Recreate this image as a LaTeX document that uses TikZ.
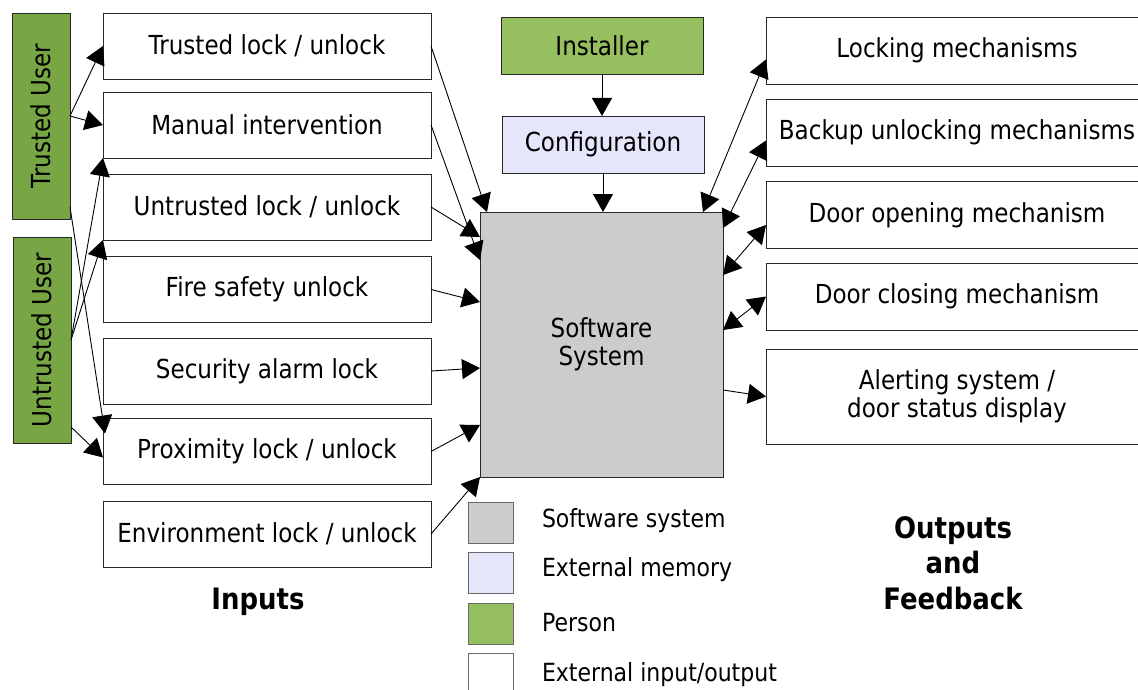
\documentclass[tikz,border=0pt]{standalone}
\usepackage{fontspec}
\setmainfont[FakeStretch=0.88]{DejaVu Sans}
\usetikzlibrary{arrows.meta,calc}
\definecolor{tugreen}{RGB}{120,166,69}
\definecolor{instgreen}{RGB}{150,191,95}
\definecolor{lav}{RGB}{230,230,250}
\definecolor{ssgray}{RGB}{204,204,204}
\definecolor{edgegray}{RGB}{40,40,40}
\begin{document}
\begin{tikzpicture}[x=1pt,y=-1pt,
  every node/.style={inner sep=0pt, outer sep=0pt},
  basebox/.style={draw=edgegray, line width=0.9pt, font=\fontsize{26.2}{28}\selectfont, align=center},
  iobox/.style={basebox, fill=white},
  leftbox/.style={iobox, minimum width=328pt, minimum height=66pt},
  rightbox/.style={iobox, minimum width=382pt, minimum height=67pt},
  person/.style={basebox, fill=tugreen},
  instbox/.style={basebox, fill=instgreen},
  membox/.style={basebox, fill=lav},
  sysbox/.style={basebox, fill=ssgray},
  legsq/.style={draw=edgegray!70, line width=0.9pt, minimum width=45pt, minimum height=41pt},
  legtext/.style={anchor=west, font=\fontsize{25}{28}\selectfont},
  heading/.style={font=\fontsize{29.5}{35.5}\selectfont\bfseries, align=center},
  tip/.tip={Triangle[length=18pt,width=20pt]},
  conn/.style={line width=0.9pt, -tip},
  bconn/.style={line width=0.9pt, tip-tip}
]
\clip (0,0) rectangle (1138,690);
\fill[white] (0,0) rectangle (1138,690);

% persons
\node[person, minimum width=58pt, minimum height=206pt] (tu) at (41,116) {\rotatebox{90}{Trusted User}};
\node[person, minimum width=58pt, minimum height=206pt] (uu) at (42,340) {\rotatebox{90}{Untrusted User}};

% inputs
\node[leftbox] (trusted) at (267,46) {Trusted lock / unlock};
\node[leftbox] (manual) at (267,125) {Manual intervention};
\node[leftbox] (untrusted) at (267,207) {Untrusted lock / unlock};
\node[leftbox] (fire) at (267,289.5) {Fire safety unlock};
\node[leftbox] (security) at (267,371) {Security alarm lock};
\node[leftbox] (prox) at (267,451.5) {Proximity lock / unlock};
\node[leftbox] (env) at (267,534) {Environment lock / unlock};

% centre
\node[instbox, minimum width=202pt, minimum height=57pt] (inst) at (602,45.5) {Installer};
\node[membox, minimum width=202pt, minimum height=57pt] (conf) at (603,144.5) {Configuration};
\node[sysbox, minimum width=243pt, minimum height=265pt] (ss) at (601.5,344.5) {Software\\System};

% outputs
\node[rightbox] (locking) at (957,50.5) {Locking mechanisms};
\node[rightbox] (backup) at (957,132.5) {Backup unlocking mechanisms};
\node[rightbox] (opening) at (957,215) {Door opening mechanism};
\node[rightbox] (closing) at (957,296.5) {Door closing mechanism};
\node[rightbox, minimum height=95pt] (alert) at (957,396.5) {Alerting system /\\door status display};

% headings
\node[heading] (inputs) at (258,602) {Inputs};
\node[heading] (outputs) at (953,563) {Outputs\\and\\Feedback};

% legend
\node[legsq, fill=ssgray] (lg1) at (490.5,522.5) {};
\node[legsq, fill=lav] (lg2) at (490.5,573) {};
\node[legsq, fill=instgreen] (lg3) at (490.5,623.5) {};
\node[legsq, fill=white] (lg4) at (490.5,673.5) {};
\node[legtext] (lt1) at (542,521) {Software system};
\node[legtext] (lt2) at (542,570) {External memory};
\node[legtext] (lt3) at (542,623) {Person};
\node[legtext] (lt4) at (542,675) {External input/output};

% person arrows
\draw[conn] (tu.east) -- (trusted.west);
\draw[conn] (tu.east) -- (manual.west);
\draw[conn] ($(tu.south east)+(0,-12)$) -- ($(prox.north west)+(2,15)$);
\draw[conn] (uu.east) -- (manual.south west);
\draw[conn] (uu.east) -- (untrusted.south west);
\draw[conn] ($(uu.south east)+(0,-16)$) -- ($(prox.west)+(0,6)$);

% inputs to system
\draw[conn] (trusted.east) -- ($(ss.north west)+(7,0)$);
\draw[conn] (manual.east) -- ($(ss.north west)+(0,48)$);
\draw[conn] (untrusted.east) -- ($(ss.north west)+(0,25)$);
\draw[conn] (fire.east) -- ($(ss.north west)+(0,90)$);
\draw[conn] (security.east) -- ($(ss.north west)+(0,156)$);
\draw[conn] (prox.east) -- ($(ss.north west)+(0,213)$);
\draw[conn] (env.east) -- (ss.south west);

% installer / configuration
\draw[conn] (inst.south) -- (inst.south |- conf.north);
\draw[conn] (conf.south) -- (conf.south |- ss.north);

% outputs
\draw[bconn] ($(ss.north east)+(-20,0)$) -- ($(locking.west)+(0,9)$);
\draw[bconn] ($(ss.north east)+(0,16)$) -- ($(backup.west)+(0,8)$);
\draw[bconn] ($(ss.north east)+(0,63)$) -- ($(opening.west)+(0,10)$);
\draw[bconn] ($(ss.north east)+(0,118)$) -- (closing.west);
\draw[conn] ($(ss.north east)+(0,178)$) -- (alert.west);
\end{tikzpicture}
\end{document}
